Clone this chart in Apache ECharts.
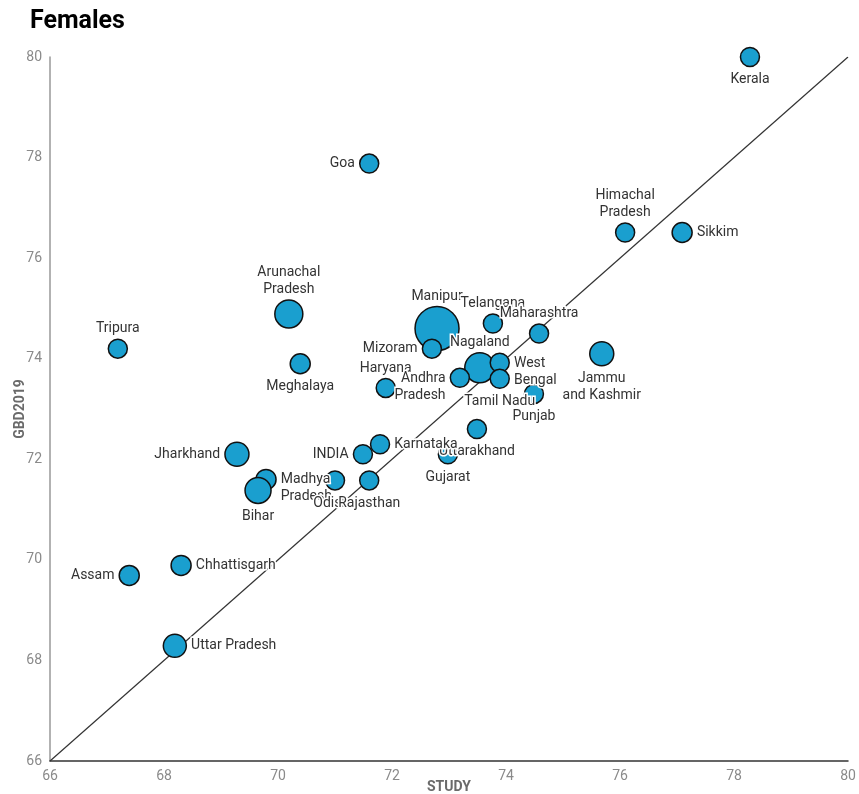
<!DOCTYPE html>
<html>
<head>
<meta charset="utf-8">
<script src="https://cdn.jsdelivr.net/npm/echarts@6/dist/echarts.min.js"></script>
<style>
  html, body { margin: 0; padding: 0; background: #fff; }
  #chart { width: 859px; height: 794px; }
</style>
</head>
<body>
<div id="chart"></div>
<script>
  // state estimates: STUDY (x) vs GBD2019 (y), bubble weight
  const states = ['Kerala', 'Goa', 'Himachal\nPradesh', 'Sikkim', 'Arunachal\nPradesh', 'Tripura', 'Meghalaya',
    'Manipur', 'Telangana', 'Maharashtra', 'Mizoram', 'Jammu\nand Kashmir', 'Nagaland', 'Haryana',
    'Andhra\nPradesh', 'West\nBengal', 'Tamil Nadu', 'Punjab', 'Uttarakhand', 'Gujarat', 'Karnataka',
    'INDIA', 'Jharkhand', 'Madhya\nPradesh', 'Bihar', 'Odisha', 'Rajasthan', 'Chhattisgarh', 'Assam',
    'Uttar Pradesh'];
  const study = [78.28, 71.6, 76.09, 77.09, 70.19, 67.19, 70.39,
    72.79, 73.77, 74.58, 72.7, 75.68, 73.54, 71.89,
    73.19, 73.89, 73.89, 74.49, 73.49, 72.98, 71.79,
    71.49, 69.28, 69.79, 69.65, 71.0, 71.6, 68.3, 67.39,
    68.19];
  const gbd = [80.0, 77.88, 76.51, 76.51, 74.89, 74.2, 73.9,
    74.6, 74.7, 74.5, 74.2, 74.1, 73.82, 73.42,
    73.62, 73.92, 73.6, 73.3, 72.6, 72.1, 72.3,
    72.1, 72.1, 71.6, 71.38, 71.58, 71.58, 69.89, 69.69,
    68.29];
  const weight = [19, 19, 19, 20, 28, 19, 20,
    44, 19, 19, 19, 24, 30, 19,
    19, 19, 19, 19, 19, 19, 19,
    19, 24, 20, 26, 19, 19, 20, 20,
    23];
  const diagonal = [66, 80];
  const axisTicks = [66, 68, 70, 72, 74, 76, 78, 80];

  const labelPos = {
    'Goa': 'left', 'Sikkim': 'right', 'Mizoram': 'left', 'Andhra\nPradesh': 'left',
    'West\nBengal': 'right', 'Karnataka': 'right', 'INDIA': 'left', 'Jharkhand': 'left',
    'Madhya\nPradesh': 'right', 'Chhattisgarh': 'right', 'Assam': 'left', 'Uttar Pradesh': 'right',
    'Kerala': 'bottom', 'Meghalaya': 'bottom', 'Jammu\nand Kashmir': 'bottom', 'Tamil Nadu': 'bottom',
    'Punjab': 'bottom', 'Uttarakhand': 'bottom', 'Gujarat': 'bottom', 'Bihar': 'bottom',
    'Odisha': 'bottom', 'Rajasthan': 'bottom'
  };

  const points = states.map((name, i) => {
    const pos = labelPos[name] || 'top';
    const twoLineSide = (pos === 'left' || pos === 'right') && name.indexOf('\n') >= 0;
    return {
      name: name,
      value: [study[i], gbd[i], weight[i]],
      label: {
        position: pos,
        distance: pos === 'top' ? 1 : 4,
        offset: twoLineSide ? [0, 9] : [0, 0]
      }
    };
  });

  const chart = echarts.init(document.getElementById('chart'));
  const tickColor = '#8a8a8a';
  chart.setOption({
    animation: false,
    textStyle: { fontFamily: 'Roboto' },
    title: {
      text: 'Females',
      left: 25,
      top: 4,
      textStyle: { fontSize: 25, fontWeight: 'bold', color: '#000', fontFamily: 'Roboto' }
    },
    grid: { left: 50, right: 11, top: 57, bottom: 33, outerBoundsMode: 'none' },
    xAxis: {
      type: 'value',
      min: axisTicks[0],
      max: axisTicks[axisTicks.length - 1],
      interval: 2,
      name: 'STUDY',
      nameLocation: 'middle',
      nameGap: 19,
      nameMoveOverlap: false,
      nameTextStyle: { color: '#6a6a6a', fontWeight: 'bold', fontSize: 14 },
      axisLine: { lineStyle: { color: '#333', width: 1.5 } },
      axisTick: { show: false },
      splitLine: { show: false },
      axisLabel: { color: tickColor, fontSize: 14, margin: 8 }
    },
    yAxis: {
      type: 'value',
      min: axisTicks[0],
      max: axisTicks[axisTicks.length - 1],
      interval: 2,
      name: 'GBD2019',
      nameLocation: 'middle',
      nameGap: 23,
      nameMoveOverlap: false,
      nameTextStyle: { color: '#6a6a6a', fontWeight: 'bold', fontSize: 14 },
      axisLine: { show: true, lineStyle: { color: '#999', width: 1.5 } },
      axisTick: { show: false },
      splitLine: { show: false },
      axisLabel: { color: tickColor, fontSize: 14, margin: 8 }
    },
    series: [
      {
        type: 'line',
        data: diagonal.map((v) => [v, v]),
        symbol: 'none',
        lineStyle: { color: '#333', width: 1.2 },
        z: 1
      },
      {
        type: 'scatter',
        clip: false,
        data: points,
        symbolSize: (val) => val[2],
        itemStyle: { color: '#1a9fcf', borderColor: '#111', borderWidth: 1.5, opacity: 1 },
        label: {
          show: true,
          formatter: '{b}',
          color: '#333',
          fontSize: 14,
          lineHeight: 17,
          textBorderColor: '#fff',
          textBorderWidth: 3
        },
        z: 2
      }
    ]
  });
</script>
</body>
</html>
